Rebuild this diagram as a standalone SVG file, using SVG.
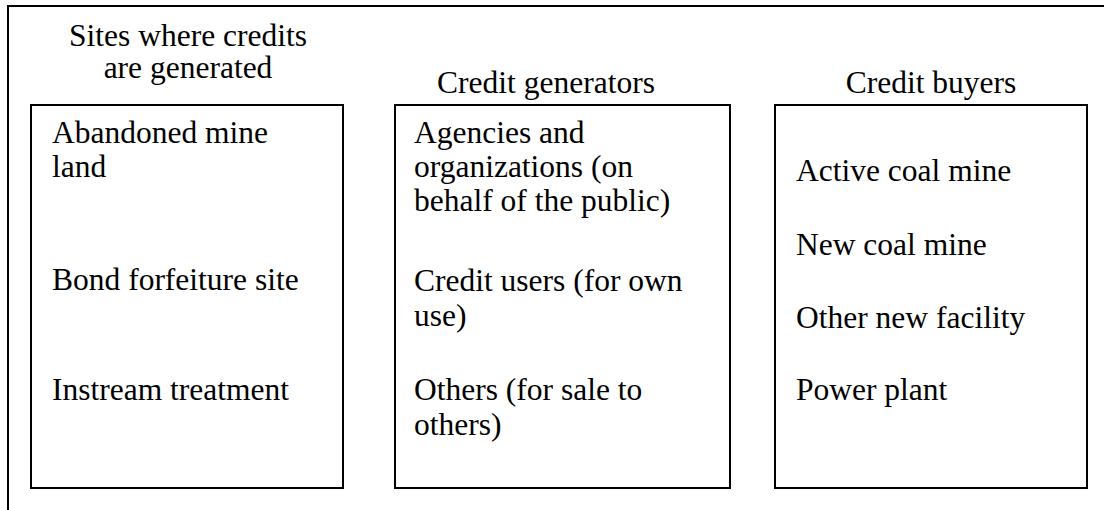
<svg xmlns="http://www.w3.org/2000/svg" width="1104" height="510" viewBox="0 0 1104 510">
<style>
text{font-family:"Liberation Serif","Times New Roman",serif;font-size:31.5px;fill:#000}
.t{text-anchor:middle}
.box{fill:#fff;stroke:#000;stroke-width:2}
.frame{fill:none;stroke:#000;stroke-width:2}
</style>
<rect width="1104" height="510" fill="#fff"/>
<g id="frame">
<line class="frame" x1="7" y1="6" x2="1104" y2="6"/>
<line class="frame" x1="8" y1="5" x2="8" y2="510"/>
</g>
<g id="connectors"></g>
<g id="sites">
<text class="t" x="188" y="46">Sites where credits</text>
<text class="t" x="188" y="78">are generated</text>
<rect class="box" x="31" y="105" width="312" height="383"/>
<text x="52" y="143">Abandoned mine</text>
<text x="52" y="177">land</text>
<text x="52" y="290">Bond forfeiture site</text>
<text x="52" y="400">Instream treatment</text>
</g>
<g id="generators">
<text class="t" x="546" y="93">Credit generators</text>
<rect class="box" x="395" y="105" width="335" height="383"/>
<text x="414" y="143">Agencies and</text>
<text x="414" y="177">organizations (on</text>
<text x="414" y="211">behalf of the public)</text>
<text x="414" y="291">Credit users (for own</text>
<text x="414" y="326">use)</text>
<text x="414" y="400">Others (for sale to</text>
<text x="414" y="435">others)</text>
</g>
<g id="buyers">
<text class="t" x="931" y="93">Credit buyers</text>
<rect class="box" x="775" y="105" width="312" height="383"/>
<text x="796" y="181">Active coal mine</text>
<text x="796" y="255">New coal mine</text>
<text x="796" y="328">Other new facility</text>
<text x="796" y="400">Power plant</text>
</g>
</svg>
